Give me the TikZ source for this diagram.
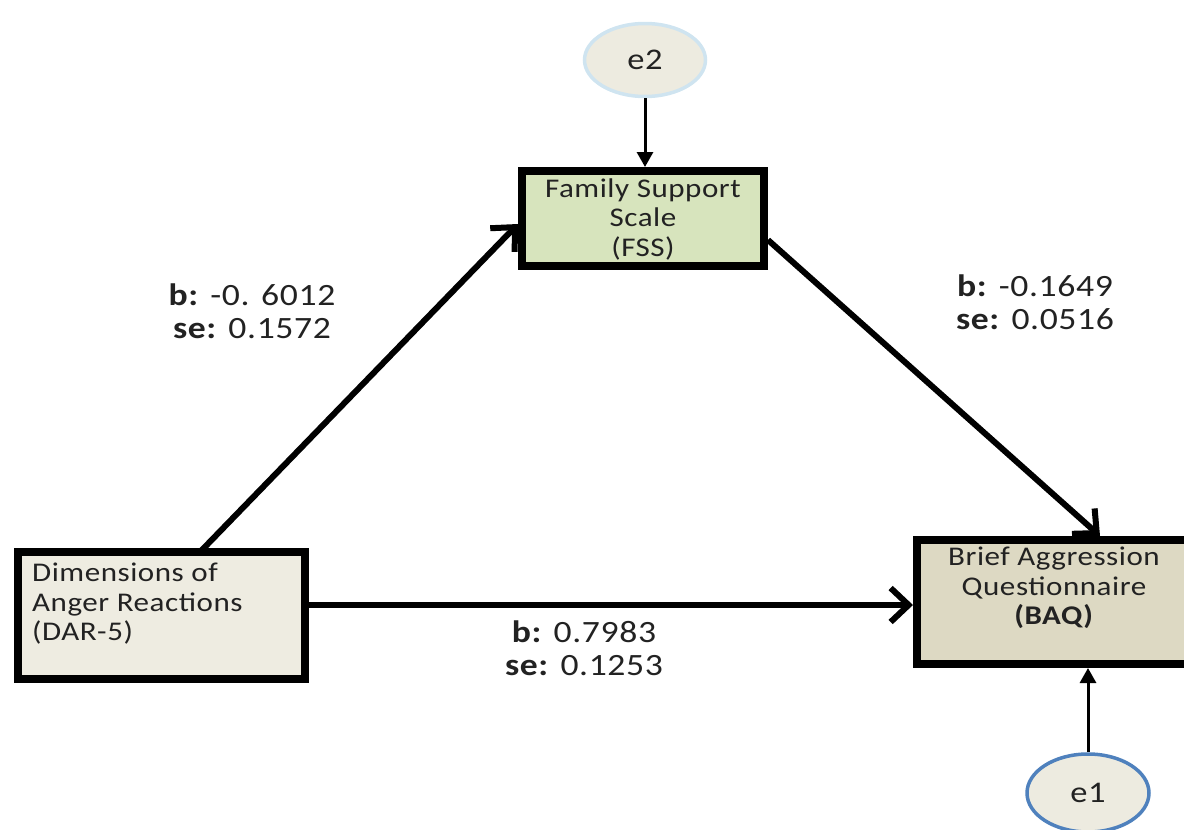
\documentclass[tikz,border=0pt]{standalone}
\usepackage{fontspec}
\setmainfont{Carlito}
\newfontfamily\boxfont[FakeStretch=1.15,LetterSpace=2]{Carlito}
\newfontfamily\coeffont[FakeStretch=1.15,LetterSpace=2]{Carlito}
\usetikzlibrary{arrows.meta,shapes.geometric}
\definecolor{darfill}{HTML}{EEECE1}
\definecolor{fssfill}{HTML}{D7E4BD}
\definecolor{baqfill}{HTML}{DDD9C3}
\definecolor{efill}{HTML}{EDEBE0}
\definecolor{etwo}{HTML}{CFE4F0}
\definecolor{eone}{HTML}{4F81BD}
\definecolor{txt}{HTML}{222222}
\tikzset{
  varbox/.style={draw=black, line width=8pt, rectangle, inner sep=0pt},
  errnode/.style={ellipse, fill=efill, line width=3.5pt, inner sep=0pt, text=txt,
    font=\boxfont\fontsize{30}{30}\selectfont},
  boxtext/.style={text=txt, font=\boxfont\fontsize{27}{29.5}\selectfont, inner sep=0pt},
  coef/.style={text=txt, font=\coeffont\fontsize{31}{33}\selectfont, align=center, inner sep=0pt},
  thickarrow/.style={line width=6pt, -{Straight Barb[length=18pt,width=34pt,line width=6pt]}},
  thinarrow/.style={line width=3pt, -{Triangle[length=15pt,width=16pt]}},
}
\begin{document}
\begin{tikzpicture}[x=1pt,y=-1pt]
\useasboundingbox (0,0) rectangle (1184,830);
\clip (0,0) rectangle (1184,830);
% boxes
\node[varbox, fill=fssfill, minimum width=242pt, minimum height=95pt] (fss) at (643,218.5) {};
\node[varbox, fill=darfill, minimum width=287pt, minimum height=127pt] (dar) at (161.5,615.5) {};
\node[varbox, fill=baqfill, minimum width=280pt, minimum height=124pt] (baq) at (1057,602) {};
% box texts
\node[boxtext, align=center, anchor=north] (fsst) at ([yshift=-11.5pt]fss.north) {Family Support\\Scale\\(FSS)};
\node[boxtext, align=left, anchor=north west] (dart) at ([xshift=18pt,yshift=-15pt]dar.north west) {Dimensions of\\Anger Reactions\\(DAR-5)};
\node[boxtext, align=center, anchor=north] (baqt) at ([xshift=-3pt,yshift=-11pt]baq.north) {Brief Aggression\\Questionnaire\\\textbf{(BAQ)}};
% error terms
\node[errnode, draw=etwo, minimum width=121pt, minimum height=73pt] (e2) at (645,60) {e2};
\node[errnode, draw=eone, minimum width=122pt, minimum height=78pt] (e1) at (1088,793) {e1};
% connectors
\draw[thinarrow] (e2.south) -- (fss.north -| e2.south);
\draw[thinarrow] (e1.north) -- (baq.south -| e1.north);
\draw[thickarrow] ([xshift=186pt,yshift=-4pt]dar.north west) -- ([yshift=-5.5pt]fss.west);
\draw[thickarrow] ([yshift=-21.5pt]fss.east) -- ([xshift=43pt]baq.north);
\draw[thickarrow] ([xshift=-4pt,yshift=10.5pt]dar.east) -- ([yshift=-3pt]baq.west);
% coefficients
\node[coef] (c1) at (252,311.5) {\textbf{b:} -0. 6012\\\textbf{se:} 0.1572};
\node[coef] (c2) at (1035,302) {\textbf{b:} -0.1649\\\textbf{se:} 0.0516};
\node[coef] (c3) at (584,648) {\textbf{b:} 0.7983\\\textbf{se:} 0.1253};
\end{tikzpicture}
\end{document}
